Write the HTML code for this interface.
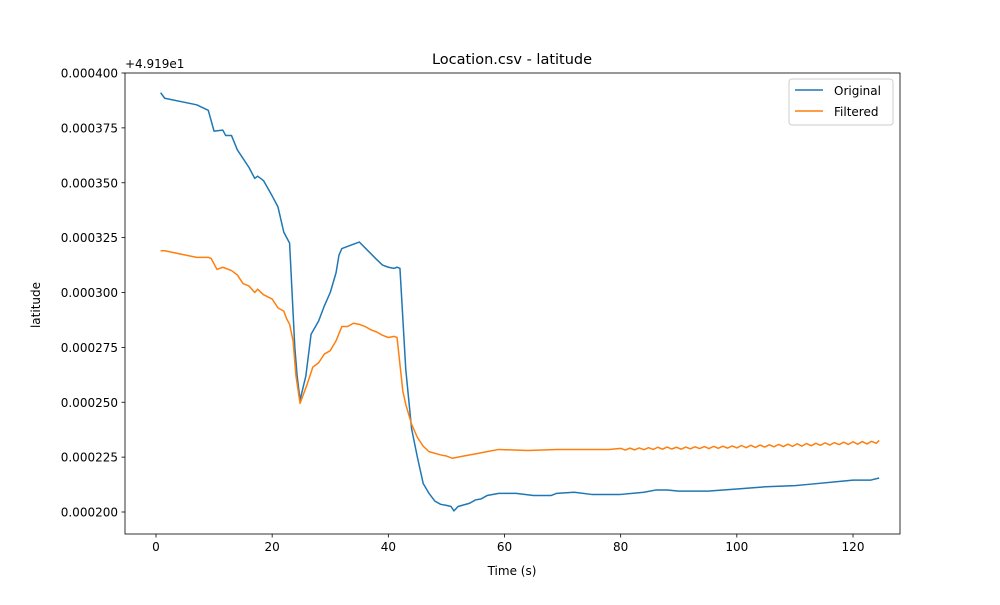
<!DOCTYPE html>
<html><head><meta charset="utf-8"><style>
body{margin:0;background:#fff}
svg text{font-family:"DejaVu Sans","Liberation Sans",sans-serif;fill:#000}
</style></head><body>
<svg width="1000" height="600" id="c">
<rect x="0" y="0" width="1000" height="600" fill="#fff"/>
<g id="plot"></g>
</svg>
<script>
const origT=[0.8,1.5,7,9,10,11.5,12,13,14,16,17,17.5,18.5,20,21,22,23,23.9,24.3,24.8,25.8,26.7,28,29,30,31,31.5,32,34,35,36.5,38,39,40,41,41.5,42,43,44,45,46,47,48,49,50,50.8,51.3,52,54,55,56,57,59,62,65,68,69,72,75,80,84,86,88,90,95,100,105,110,112,118,120,123,124.5];
const origV=[391,388.5,385.5,383,373.5,374,371.5,371.5,365,357,352,353,351,344,339,327.5,322.5,275,262,251,262,281,287,294,300,309,317,320,322,323,319,315,312.5,311.5,311,311.5,311,265,238,225,213,208.5,205,203.5,203,202.5,200.5,202.5,204,205.5,206,207.5,208.5,208.5,207.5,207.5,208.5,209,208,208,209,210,210,209.5,209.5,210.5,211.5,212,212.5,214,214.5,214.5,215.5];
const filtT=[0.8,1.5,7,9,9.5,10.5,11.5,13,14,15,16,17,17.5,18.5,20,21,22,22.5,23,23.6,24.1,24.8,26,27,28,29,30,31,32,33,34,35,36,37,38,39,40,41,41.5,42.5,43,44,45,46,47,49,50,51,53,55,57,59,64,69,74,78,
80,80.8,81.6,82.4,83.2,84,84.8,85.6,86.4,87.2,88,88.8,89.6,90.4,91.2,92,92.8,93.6,94.4,95.2,96,96.8,97.6,98.4,99.2,100,100.8,101.6,102.4,103.2,104,104.8,105.6,106.4,107.2,108,108.8,109.6,110.4,111.2,112,112.8,113.6,114.4,115.2,116,116.8,117.6,118.4,119.2,120,120.8,121.6,122.4,123.2,124,124.5];
const filtV=[319,319,316,316,315.5,310.5,311.5,310,308,304,303,300,301.5,299,297,293,291.5,288,285.5,278,262,249.5,258,266,268,272,273.5,278,284.5,284.5,286,285.5,284.5,283,282,280.5,279.5,280,279.5,255,249,240,234,230,227.5,226,225.5,224.5,225.5,226.5,227.5,228.5,228,228.5,228.5,228.5,
229,228.2,229.1,228.3,229.2,228.4,229.3,228.5,229.5,228.6,229.6,228.7,229.5,228.6,229.6,228.8,229.7,228.9,229.8,228.9,229.9,229,230,229.1,230.1,229.2,230.3,229.3,230.4,229.4,230.5,229.6,230.6,229.7,230.8,229.8,230.9,229.9,231.1,230,231.2,230.2,231.3,230.4,231.5,230.5,231.6,230.7,231.8,230.8,232,230.9,232.1,231,232.2,231.3,232.6];
const xTicks=[0,20,40,60,80,100,120];
const yTicks=[200,225,250,275,300,325,350,375,400];
const L=125,R=900,T=73,B=534;
const X=t=>156+t*(853-156)/120;
const Y=v=>512-(v-200)*439/200;
const NS="http://www.w3.org/2000/svg";
const g=document.getElementById('plot');
function mk(tag,attrs,txt){const e=document.createElementNS(NS,tag);for(const k in attrs)e.setAttribute(k,attrs[k]);if(txt!==undefined)e.textContent=txt;g.appendChild(e);return e;}
function line(T_,V,color,name){const p=mk('polyline',{points:T_.map((t,i)=>X(t)+','+Y(V[i])).join(' '),fill:'none',stroke:color,'stroke-width':1.5,'stroke-linejoin':'round'});

}
line(origT,origV,'#1f77b4','original-line');
line(filtT,filtV,'#ff7f0e','filtered-line');
const fr=mk('rect',{x:L,y:T,width:R-L,height:B-T,fill:'none',stroke:'#000','stroke-width':0.8});


xTicks.forEach(t=>{mk('line',{x1:X(t),x2:X(t),y1:B,y2:B+3.5,stroke:'#000','stroke-width':0.8});
const e=mk('text',{x:X(t),y:B+17,'font-size':12,'text-anchor':'middle'},String(t));

});
yTicks.forEach(v=>{mk('line',{x1:L,x2:L-3.5,y1:Y(v),y2:Y(v),stroke:'#000','stroke-width':0.8});
const e=mk('text',{x:L-7,y:Y(v)+4.5,'font-size':12,'text-anchor':'end'},'0.000'+v);

});
let e;
e=mk('text',{x:125,y:68,'font-size':12},'+4.919e1');


e=mk('text',{x:512,y:64,'font-size':14.5,'text-anchor':'middle'},'Location.csv - latitude');


e=mk('text',{x:512,y:575,'font-size':12,'text-anchor':'middle'},'Time (s)');


e=mk('text',{x:40,y:305,'font-size':12,'text-anchor':'middle',transform:'rotate(-90 40 305)'},'latitude');


e=mk('rect',{x:789,y:79,width:104,height:46,rx:3,fill:'#fff',stroke:'#ccc'});


mk('line',{x1:795,x2:823,y1:90,y2:90,stroke:'#1f77b4','stroke-width':1.5});
e=mk('text',{x:834,y:95,'font-size':12},'Original');


mk('line',{x1:795,x2:823,y1:111,y2:111,stroke:'#ff7f0e','stroke-width':1.5});
e=mk('text',{x:834,y:116,'font-size':12},'Filtered');


</script>
</body></html>
